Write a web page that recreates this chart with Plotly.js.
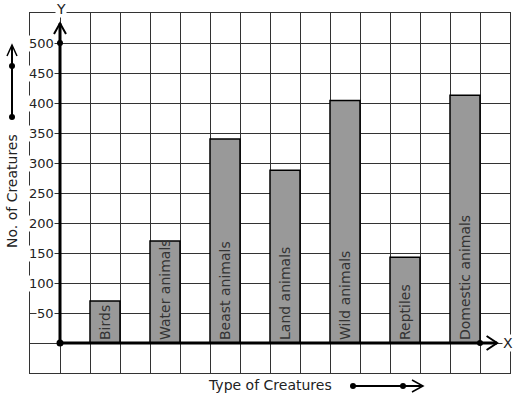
<!DOCTYPE html>
<html><head><meta charset="utf-8">
<script src="https://cdn.plot.ly/plotly-3.0.1.min.js"></script>
<style>html,body{margin:0;padding:0;background:#fff}#c{width:517px;height:399px}</style>
</head><body><div id="c"></div>
<script>
const categories = ["Birds","Water animals","Beast animals","Land animals","Wild animals","Reptiles","Domestic animals"];
const values = [70, 170, 340, 288, 404, 143, 413];
const tickValues = [50,100,150,200,250,300,350,400,450,500];
const tickLabels = ["50","100","150","200","250","300","350","400","450","500"];

const F = "DejaVu Sans, Verdana, sans-serif";
const xs = categories.map((c,i)=>1.5+2*i);

const bars = {
  type:'bar', x: xs, y: values, width: 1, text: categories,
  textposition:'inside', insidetextanchor:'start', textangle:-90,
  textfont:{family:F, size:14, color:'#333'},
  marker:{color:'#999999', line:{color:'#000', width:1.5}},
  hoverinfo:'none', constraintext:'none'
};

const px = v => (v-30)/480;
const py = v => (373-v)/360;

const shapes = [
  {type:'line', xref:'x', yref:'y', x0:0, y0:0, x1:0, y1:533, line:{color:'#000', width:3}},
  {type:'line', xref:'x', yref:'y', x0:0, y0:0, x1:14.57, y1:0, line:{color:'#000', width:3}},
  {type:'path', xref:'x', yref:'y', path:'M -0.2 515 L 0 533 L 0.2 515', line:{color:'#000', width:2}},
  {type:'path', xref:'x', yref:'y', path:'M 14.22 11.7 L 14.57 0 L 14.22 -11.7', line:{color:'#000', width:2}},
  {type:'line', xref:'paper', yref:'paper', x0:px(12), y0:py(117), x1:px(12), y1:py(46), line:{color:'#000', width:2}},
  {type:'path', xref:'paper', yref:'paper', path:`M ${px(7)} ${py(56)} L ${px(12)} ${py(45)} L ${px(17)} ${py(56)}`, line:{color:'#000', width:1.5}},
  {type:'line', xref:'paper', yref:'paper', x0:px(353), y0:py(386), x1:px(422), y1:py(386), line:{color:'#000', width:2}},
  {type:'path', xref:'paper', yref:'paper', path:`M ${px(412)} ${py(380)} L ${px(423)} ${py(386)} L ${px(412)} ${py(392)}`, line:{color:'#000', width:1.5}},
];
function dot(cx, cy, r){ return {type:'circle', xref:'paper', yref:'paper', x0:px(cx-r), x1:px(cx+r), y0:py(cy+r), y1:py(cy-r), fillcolor:'#000', line:{color:'#000', width:0}}; }
shapes.push(dot(60,343,3.5), dot(60,43,3), dot(480,343,3), dot(12,117,3), dot(12,66,3), dot(353,386,3), dot(403,386,3));

const annotations = tickValues.map((v,i)=>({
  xref:'x', yref:'y', x:-0.17, y:v, xanchor:'right', yanchor:'middle', showarrow:false,
  text:tickLabels[i], font:{family:F, size:13, color:'#222'}, bgcolor:'#fff', borderpad:0
}));
annotations.push(
  {xref:'x', yref:'paper', x:0.03, y:py(9), showarrow:false, text:'Y', font:{family:F,size:14,color:'#222'}, bgcolor:'#fff', borderpad:0, xanchor:'center', yanchor:'middle'},
  {xref:'paper', yref:'y', x:px(508), y:0, showarrow:false, text:'X', font:{family:F,size:14,color:'#222'}, bgcolor:'#fff', borderpad:0, xanchor:'center', yanchor:'middle'},
  {xref:'paper', yref:'paper', x:px(270), y:py(385), showarrow:false, text:'Type of Creatures', font:{family:F,size:14,color:'#222'}, xanchor:'center', yanchor:'middle'},
  {xref:'paper', yref:'paper', x:px(12), y:py(191), showarrow:false, text:'No. of Creatures', textangle:-90, font:{family:F,size:14,color:'#222'}, xanchor:'center', yanchor:'middle'}
);

const layout = {
  width:517, height:399, margin:{l:30, r:7, t:13, b:26},
  paper_bgcolor:'#fff', plot_bgcolor:'#fff', showlegend:false,
  xaxis:{range:[-1,15], dtick:1, tick0:0, showgrid:true, gridcolor:'#333', gridwidth:1,
         showline:true, mirror:true, linecolor:'#333', linewidth:1, zeroline:false, showticklabels:false, ticks:''},
  yaxis:{range:[-50,550], dtick:50, tick0:0, showgrid:true, gridcolor:'#333', gridwidth:1,
         showline:true, mirror:true, linecolor:'#333', linewidth:1, zeroline:false, showticklabels:false, ticks:''},
  shapes, annotations, bargap:0
};
Plotly.newPlot('c', [bars], layout, {staticPlot:true, displayModeBar:false});
</script></body></html>
